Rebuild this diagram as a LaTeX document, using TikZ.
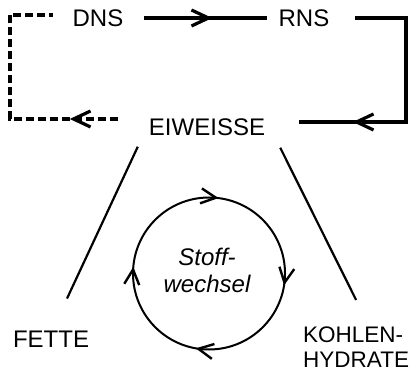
\documentclass[tikz,border=0pt]{standalone}
\usepackage{fontspec}
\setmainfont{Liberation Sans}
\usetikzlibrary{arrows.meta,decorations.markings}
\begin{document}
\begin{tikzpicture}[x=1pt,y=1pt,
  lbl/.style={inner sep=0pt, font=\fontsize{24}{28}\selectfont},
  conn/.style={line width=4pt},
  dconn/.style={line width=4pt, dash pattern=on 8pt off 4pt},
  slant/.style={line width=2.2pt},
  circ/.style={line width=2pt},
  midarrow/.style={postaction={decorate,decoration={markings,
     mark=at position #1 with {\arrow{Straight Barb[length=17pt,width=16pt,line width=3.2pt]}}}}}
]
\useasboundingbox (0,0) rectangle (419,374);

% labels
\node[lbl] (DNS) at (98,356) {DNS};
\node[lbl] (RNS) at (304,356) {RNS};
\node[lbl] (EIW) at (207,247) {EIWEISSE};
\node[lbl] (FETTE) at (51,35) {FETTE};
\node[lbl, align=left, anchor=north west, font=\fontsize{22.5}{25}\selectfont] (KH) at (303,47) {KOHLEN-\\HYDRATE};
\node[inner sep=0pt, align=center, font=\fontsize{24}{27}\selectfont\itshape] (SW) at (207,104) {Stoff-\\wechsel};

% DNS -> RNS
\draw[conn, midarrow=68pt] ([xshift=20.7pt]DNS.east) -- ([xshift=-11.7pt]RNS.west);

% RNS -> EIWEISSE
\coordinate (r1) at (406,356);
\coordinate (r2) at (406,252);
\draw[conn, midarrow=208pt] ([xshift=25.7pt]RNS.east) -- (r1) -- (r2) -- ([xshift=34pt,yshift=5pt]EIW.east);

% EIWEISSE -> DNS (dashed)
\coordinate (d1) at (9.5,255);
\coordinate (d2) at (9.5,359);
\draw[dconn, midarrow=48pt] ([xshift=-31pt,yshift=8pt]EIW.west) -- (d1) -- (d2) -- ([xshift=-19.7pt,yshift=3pt]DNS.west);

% slanted lines
\draw[slant] ([xshift=-11pt,yshift=-11pt]EIW.south west) -- ([xshift=16pt,yshift=32pt]FETTE.north);
\draw[slant] ([xshift=15pt,yshift=-12pt]EIW.south east) -- ([xshift=0pt,yshift=27pt]KH.north);

% Stoffwechsel circle
\coordinate (cc) at (209,100.5);
\draw[circ, postaction={decorate,decoration={markings,
   mark=at position 0.02 with {\arrow{Straight Barb[length=15pt,width=15pt,line width=2.4pt]}},
   mark=at position 0.275 with {\arrow{Straight Barb[length=15pt,width=15pt,line width=2.4pt]}},
   mark=at position 0.528 with {\arrow{Straight Barb[length=15pt,width=15pt,line width=2.4pt]}},
   mark=at position 0.764 with {\arrow{Straight Barb[length=15pt,width=15pt,line width=2.4pt]}}}}]
  ([yshift=76pt]cc) arc[start angle=90, end angle=-270, radius=76];
\end{tikzpicture}
\end{document}
